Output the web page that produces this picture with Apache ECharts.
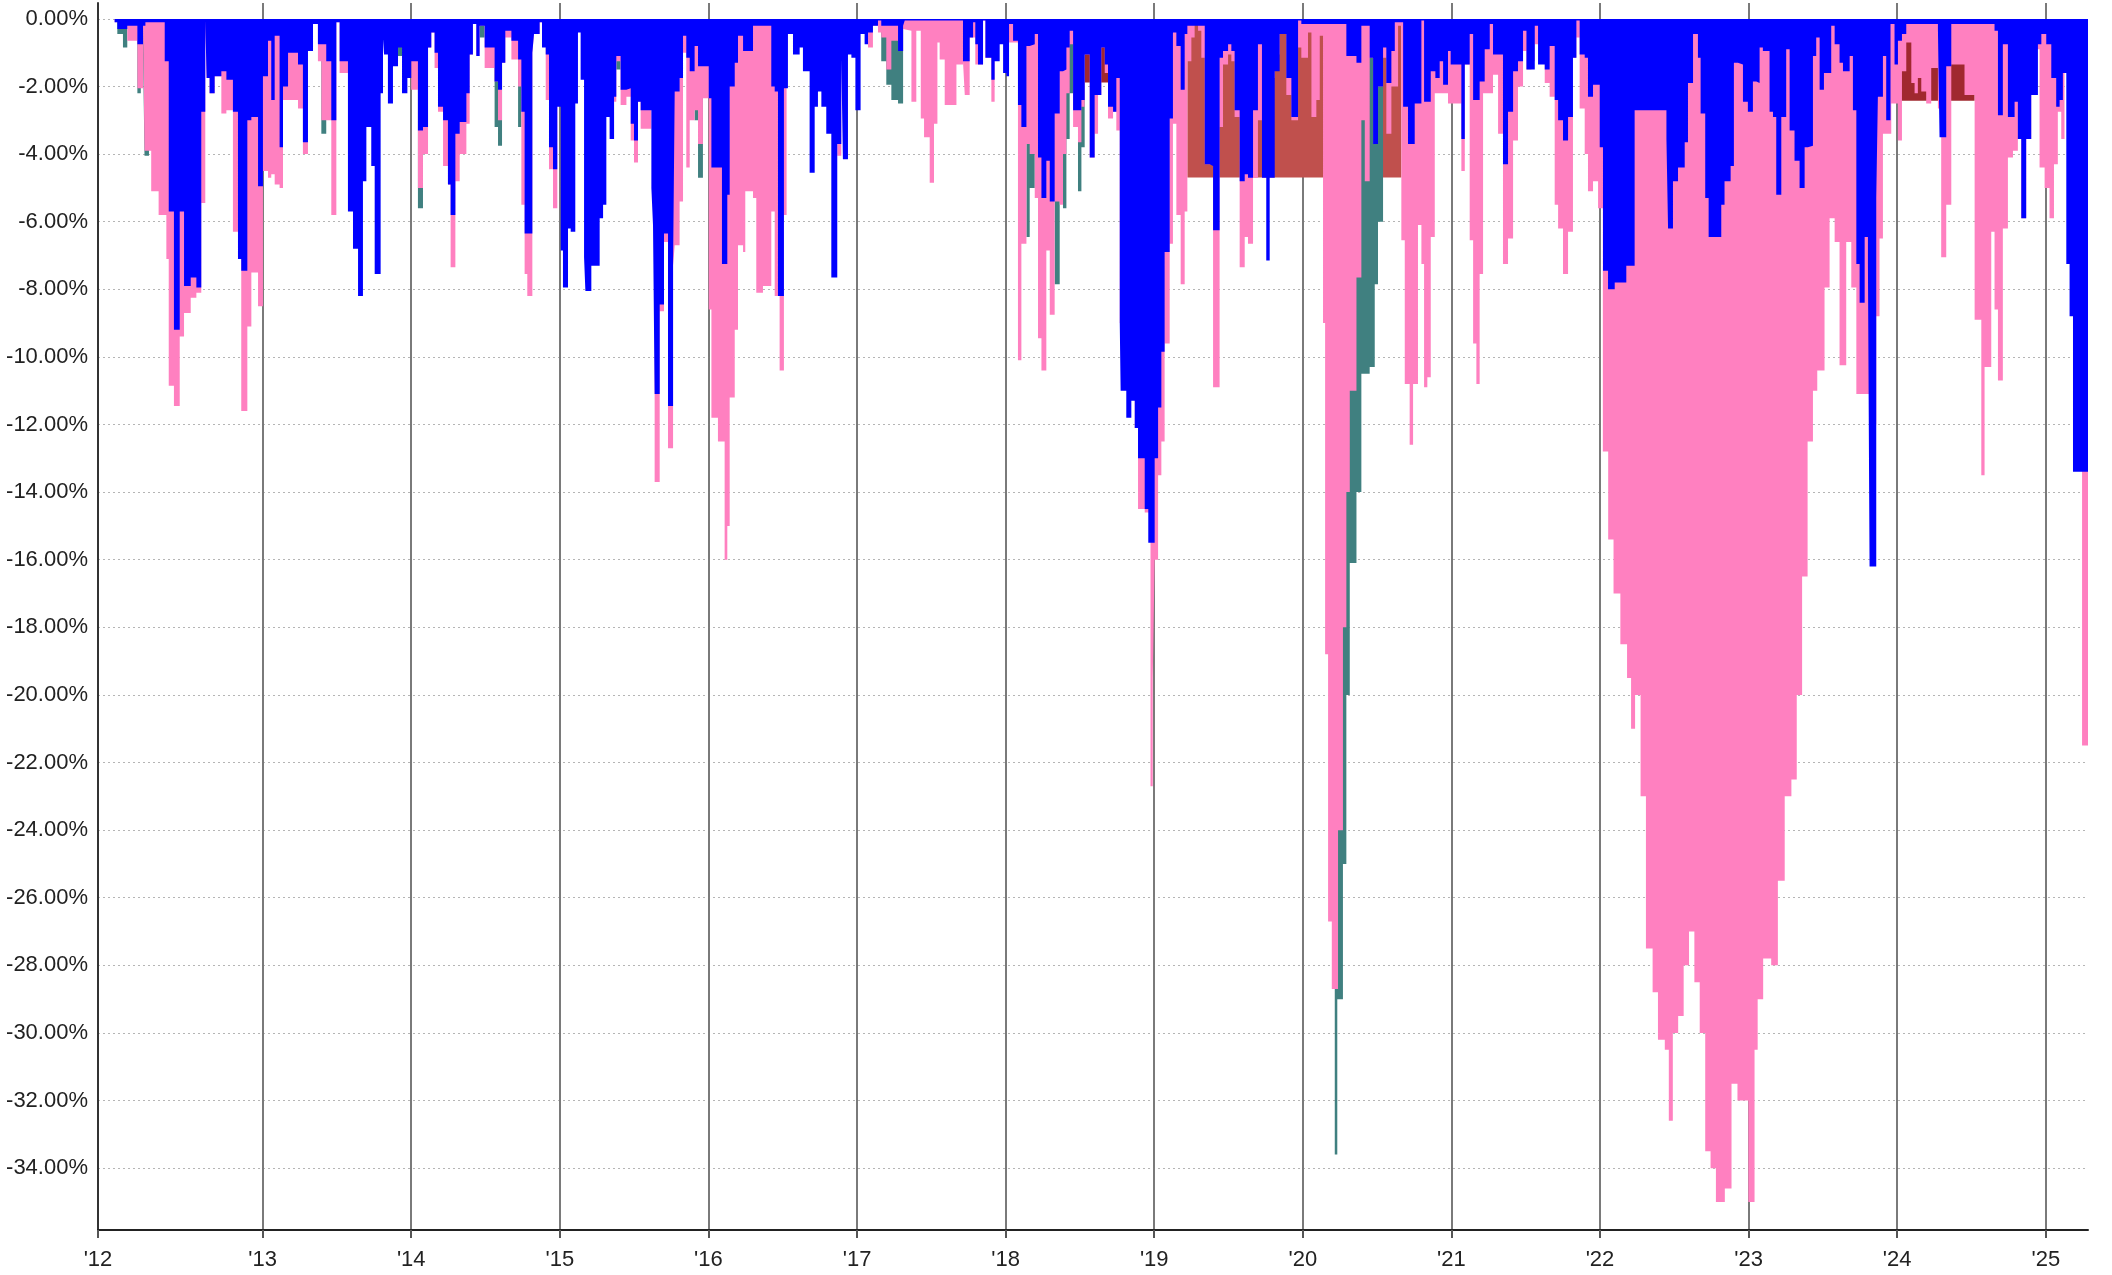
<!DOCTYPE html>
<html><head><meta charset="utf-8">
<script src="https://cdn.jsdelivr.net/npm/echarts@6/dist/echarts.min.js"></script>
<style>html,body{margin:0;padding:0;background:#fff}#c{width:2112px;height:1275px}</style>
</head><body><div id="c"></div>
<script>
const yearTicks = [2011.892, 2013, 2014, 2015, 2016, 2017, 2018, 2019, 2020, 2021, 2022, 2023, 2024, 2025];
const pctTicks = [0, -2, -4, -6, -8, -10, -12, -14, -16, -18, -20, -22, -24, -26, -28, -30, -32, -34];

const blueSeries = [[2012.004,-0.1],[2012.022,-0.3],[2012.089,-0.2],[2012.157,-0.75],[2012.195,-0.2],[2012.211,-0.1],[2012.341,-1.25],[2012.368,-5.7],[2012.403,-9.2],[2012.442,-5.7],[2012.471,-7.9],[2012.516,-7.65],[2012.554,-7.95],[2012.587,-2.75],[2012.614,-0.05],[2012.623,-1.75],[2012.643,-2.2],[2012.677,-1.7],[2012.722,-1.55],[2012.756,-1.8],[2012.8,-2.75],[2012.834,-7.1],[2012.856,-7.45],[2012.897,-3.0],[2012.924,-2.9],[2012.969,-4.95],[2013.002,-1.7],[2013.036,-0.65],[2013.058,-2.4],[2013.081,-0.5],[2013.114,-3.8],[2013.137,-2.0],[2013.171,-1.0],[2013.238,-1.35],[2013.271,-3.65],[2013.305,-0.95],[2013.339,-0.15],[2013.372,-0.75],[2013.428,-1.25],[2013.462,-3.0],[2013.496,-0.1],[2013.518,-1.25],[2013.574,-5.7],[2013.608,-6.8],[2013.642,-8.2],[2013.675,-4.8],[2013.698,-3.2],[2013.731,-4.35],[2013.754,-7.55],[2013.794,-2.2],[2013.81,-0.6],[2013.817,-1.05],[2013.843,-2.5],[2013.877,-1.4],[2013.911,-0.85],[2013.938,-2.2],[2013.974,-1.75],[2014.0,-1.25],[2014.045,-3.3],[2014.079,-3.2],[2014.113,-0.85],[2014.135,-0.4],[2014.157,-1.0],[2014.18,-2.6],[2014.214,-3.0],[2014.247,-4.9],[2014.265,-5.8],[2014.297,-3.4],[2014.326,-3.05],[2014.371,-2.2],[2014.393,-1.05],[2014.415,-0.15],[2014.438,-1.1],[2014.46,-0.2],[2014.494,-0.85],[2014.561,-1.85],
[2014.584,-2.1],[2014.611,-1.3],[2014.633,-0.35],[2014.674,-0.65],[2014.719,-1.2],[2014.741,-2.75],[2014.763,-6.35],[2014.815,-1.0],[2014.826,-0.45],[2014.864,-0.1],[2014.88,-0.85],[2014.905,-1.05],[2014.927,-3.8],[2014.954,-4.45],[2014.983,-2.6],[2015.006,-6.85],[2015.021,-7.95],[2015.055,-6.2],[2015.073,-6.3],[2015.104,-2.5],[2015.122,-0.4],[2015.14,-1.8],[2015.163,-7.05],[2015.172,-8.05],[2015.212,-7.3],[2015.268,-5.9],[2015.291,-5.5],[2015.313,-2.9],[2015.335,-3.55],[2015.365,-2.3],[2015.38,-1.1],[2015.409,-2.1],[2015.448,-2.05],[2015.477,-3.1],[2015.499,-3.6],[2015.526,-2.45],[2015.544,-2.7],[2015.616,-5.0],[2015.627,-6.1],[2015.638,-11.1],[2015.672,-8.45],[2015.701,-6.35],[2015.728,-11.45],[2015.762,-7.3],[2015.773,-2.15],[2015.806,-1.75],[2015.829,-0.5],[2015.851,-1.15],[2015.874,-1.55],[2015.907,-0.8],[2015.93,-1.4],[2016.002,-2.35],[2016.02,-4.4],[2016.091,-7.25],[2016.127,-5.2],[2016.143,-2.0],[2016.177,-1.3],[2016.199,-0.5],[2016.233,-0.95],[2016.3,-0.2],[2016.423,-2.0],[2016.446,-2.15],[2016.468,-8.2],[2016.508,-2.05],[2016.535,-0.45],[2016.569,-1.05],[2016.614,-0.85],[2016.636,-1.55],[2016.681,-4.55],[2016.715,-2.6],[2016.737,-2.15],[2016.76,-2.6],[2016.793,-3.4],[2016.827,-7.65],[2016.867,-3.7],[2016.894,-1.2],[2016.905,-4.15],[2016.939,-1.05],[2016.962,-1.15],[2016.989,-2.7],[2017.024,-0.45],[2017.051,-0.75],[2017.074,-0.4],[2017.107,-0.2],[2017.141,-0.05],[2017.163,-0.2],
[2017.276,-0.95],[2017.31,-0.2],[2017.321,-0.05],[2017.713,-1.25],[2017.758,-0.55],[2017.781,-0.1],[2017.796,-0.75],[2017.814,-1.35],[2017.848,-0.05],[2017.864,-1.15],[2017.904,-1.8],[2017.926,-1.25],[2017.96,-0.75],[2017.983,-1.6],[2018.005,-1.7],[2018.023,-0.15],[2018.05,-0.65],[2018.083,-2.55],[2018.106,-3.2],[2018.14,-0.8],[2018.162,-0.75],[2018.196,-0.45],[2018.218,-4.1],[2018.241,-5.3],[2018.274,-4.2],[2018.297,-5.4],[2018.33,-2.8],[2018.364,-1.55],[2018.386,-1.5],[2018.409,-0.85],[2018.431,-0.35],[2018.454,-2.7],[2018.51,-2.4],[2018.532,-1.05],[2018.566,-4.1],[2018.599,-2.25],[2018.644,-0.85],[2018.667,-1.35],[2018.689,-2.6],[2018.723,-2.75],[2018.745,-1.75],[2018.768,-9.0],[2018.774,-11.0],[2018.812,-11.8],[2018.846,-11.3],[2018.869,-12.1],[2018.891,-13.0],[2018.936,-14.5],[2018.96,-15.5],[2019.003,-13.0],[2019.026,-11.5],[2019.048,-9.85],[2019.07,-6.9],[2019.104,-2.95],[2019.126,-0.4],[2019.149,-0.8],[2019.178,-2.1],[2019.205,-0.45],[2019.223,-0.2],[2019.34,-4.3],[2019.373,-4.35],[2019.396,-6.25],[2019.44,-1.15],[2019.463,-0.95],[2019.497,-0.75],[2019.519,-0.95],[2019.541,-2.7],[2019.575,-4.8],[2019.609,-4.6],[2019.631,-4.7],[2019.665,-2.7],[2019.698,-0.75],[2019.725,-4.7],[2019.754,-7.15],[2019.777,-4.7],[2019.811,-1.55],[2019.844,-0.45],[2019.889,-1.75],[2019.923,-2.9],
[2019.968,-0.05],[2019.99,-0.15],[2020.293,-1.1],[2020.361,-1.3],[2020.394,-0.2],[2020.45,-1.15],[2020.473,-3.7],[2020.506,-2.0],[2020.54,-0.85],[2020.562,-1.9],[2020.596,-0.95],[2020.619,-0.1],[2020.675,-2.6],[2020.708,-3.7],[2020.753,-2.5],[2020.798,-0.05],[2020.816,-2.45],[2020.861,-1.55],[2020.892,-1.75],[2020.921,-1.25],[2020.944,-1.95],[2020.977,-0.95],[2020.995,-1.35],[2021.067,-3.55],[2021.09,-1.35],[2021.123,-0.45],[2021.146,-2.4],[2021.19,-1.85],[2021.224,-0.9],[2021.258,-0.15],[2021.28,-1.05],[2021.347,-4.3],[2021.381,-2.75],[2021.415,-1.55],[2021.448,-1.25],[2021.482,-0.35],[2021.505,-1.5],[2021.561,-0.2],[2021.583,-1.35],[2021.628,-1.5],[2021.661,-0.8],[2021.695,-2.4],[2021.718,-3.0],[2021.751,-3.6],[2021.785,-2.9],[2021.818,-1.15],[2021.841,-0.05],[2021.863,-1.05],[2021.897,-1.15],[2021.919,-2.3],[2021.953,-1.95],[2021.998,-3.8],[2022.02,-7.45],[2022.054,-8.0],[2022.099,-7.8],[2022.177,-7.3],[2022.233,-2.7],[2022.447,-3.55],[2022.458,-6.2],[2022.491,-4.8],[2022.525,-4.4],[2022.57,-3.65],[2022.592,-1.9],[2022.626,-0.45],
[2022.659,-1.15],[2022.677,-2.8],[2022.708,-5.3],[2022.731,-6.45],[2022.816,-5.5],[2022.838,-4.8],[2022.879,-4.35],[2022.901,-1.3],[2022.928,-1.35],[2022.962,-2.45],[2022.995,-2.75],[2023.029,-1.85],[2023.052,-1.9],[2023.074,-0.85],[2023.096,-0.95],[2023.141,-2.75],[2023.164,-2.9],[2023.186,-5.2],[2023.22,-2.9],[2023.253,-0.9],[2023.276,-3.3],[2023.309,-4.2],[2023.343,-5.0],[2023.377,-3.8],[2023.399,-3.75],[2023.433,-1.1],[2023.455,-0.55],[2023.478,-2.1],[2023.507,-1.6],[2023.556,-0.2],[2023.579,-0.75],[2023.612,-1.3],[2023.635,-1.55],[2023.68,-1.1],[2023.702,-2.7],[2023.725,-7.25],[2023.747,-8.4],[2023.781,-6.45],[2023.803,-7.25],[2023.814,-16.2],[2023.859,-5.3],[2023.87,-2.3],[2023.904,-1.1],[2023.926,-3.0],[2023.955,-0.15],[2023.982,-1.35],[2024.005,-0.65],[2024.032,-0.45],[2024.061,-0.15],[2024.274,-0.3],[2024.285,-3.5],[2024.33,-1.4],[2024.364,-0.15],[2024.655,-0.35],[2024.678,-2.85],[2024.711,-0.75],[2024.745,-2.9],[2024.79,-2.45],[2024.812,-3.55],[2024.835,-5.9],[2024.868,-3.55],[2024.902,-2.25],[2024.947,-0.75],[2024.97,-0.45],[2025.003,-0.75],[2025.037,-1.75],[2025.07,-2.6],[2025.093,-2.4],[2025.115,-1.6],[2025.138,-7.25],[2025.16,-8.8],[2025.183,-13.4],[2025.3,-13.4]];

const pinkSeries = [[2012.004,-0.1],[2012.089,-0.65],[2012.157,-2.05],[2012.195,-0.2],[2012.205,-3.9],[2012.25,-5.1],[2012.3,-5.8],[2012.352,-7.1],[2012.368,-10.85],[2012.403,-11.45],[2012.442,-9.4],[2012.471,-8.7],[2012.516,-8.25],[2012.554,-8.1],[2012.587,-5.45],[2012.614,-0.05],[2012.623,-1.75],[2012.643,-2.2],[2012.677,-1.7],[2012.722,-2.8],[2012.756,-2.7],[2012.8,-6.3],[2012.834,-7.1],[2012.856,-11.6],[2012.897,-9.1],[2012.924,-7.5],[2012.969,-8.5],[2013.002,-4.5],[2013.036,-4.7],[2013.058,-4.6],[2013.081,-4.9],[2013.114,-5.0],[2013.137,-2.4],[2013.238,-2.65],[2013.271,-4.0],[2013.305,-0.95],[2013.339,-0.15],[2013.372,-1.25],[2013.395,-3.0],[2013.462,-5.8],[2013.496,-0.1],[2013.518,-1.6],[2013.574,-0.1],[2014.0,-2.1],[2014.045,-5.0],[2014.079,-4.0],[2014.113,-0.85],[2014.135,-0.4],[2014.157,-1.45],[2014.18,-2.75],[2014.214,-4.35],[2014.247,-4.9],[2014.265,-7.35],[2014.297,-4.8],[2014.326,-4.0],[2014.371,-3.1],[2014.393,-1.05],[2014.415,-0.15],[2014.438,-1.1],[2014.46,-0.2],[2014.494,-1.45],[2014.561,-1.85],
[2014.584,-3.0],[2014.611,-1.3],[2014.633,-0.55],[2014.674,-1.2],[2014.719,-2.0],[2014.741,-5.5],[2014.763,-7.55],[2014.781,-8.2],[2014.815,-1.0],[2014.826,-0.45],[2014.864,-0.1],[2014.905,-2.4],[2014.927,-4.45],[2014.954,-5.6],[2014.983,-0.3],[2015.365,-2.45],[2015.38,-1.25],[2015.409,-2.55],[2015.448,-2.3],[2015.477,-3.6],[2015.499,-4.25],[2015.526,-2.45],[2015.544,-3.25],[2015.616,-2.5],[2015.638,-13.7],[2015.672,-8.65],[2015.701,-6.6],[2015.728,-12.7],[2015.762,-7.3],[2015.773,-6.7],[2015.806,-5.4],[2015.829,-1.0],[2015.851,-4.4],[2015.874,-3.0],[2015.907,-2.7],[2015.93,-3.7],[2015.963,-2.35],[2016.002,-8.6],[2016.02,-11.8],[2016.064,-12.5],[2016.109,-16.0],[2016.127,-15.0],[2016.143,-11.2],[2016.177,-9.2],[2016.199,-6.7],[2016.233,-6.9],[2016.248,-5.1],[2016.3,-5.3],[2016.322,-8.1],[2016.367,-7.9],[2016.423,-5.7],[2016.446,-8.2],[2016.479,-10.4],[2016.508,-5.8],[2016.526,-2.05],[2016.535,-0.45],[2016.569,-0.8],[2016.867,-4.05],[2016.894,-1.2],[2016.905,-0.4],[2017.074,-0.85],[2017.107,-0.2],[2017.141,-0.4],[2017.163,-0.55],[2017.197,-1.5],[2017.231,-0.65],
[2017.276,-0.95],[2017.31,-0.3],[2017.321,-0.35],[2017.366,-2.45],[2017.399,-0.35],[2017.429,-2.95],[2017.451,-3.5],[2017.489,-4.85],[2017.518,-3.1],[2017.541,-0.7],[2017.556,-1.2],[2017.59,-2.55],[2017.669,-1.35],[2017.713,-1.25],[2017.725,-2.25],[2017.758,-0.55],[2017.796,-1.35],[2017.848,-0.05],[2017.864,-1.15],[2017.904,-2.45],[2017.926,-0.7],[2018.083,-10.1],[2018.106,-6.65],[2018.14,-3.7],[2018.162,-4.0],[2018.196,-5.3],[2018.218,-9.45],[2018.241,-10.4],[2018.274,-6.85],[2018.297,-8.75],[2018.33,-5.4],[2018.364,-5.5],[2018.386,-4.0],[2018.409,-2.2],[2018.431,-0.75],[2018.454,-3.2],[2018.487,-3.65],[2018.51,-2.6],[2018.532,-1.05],[2018.566,-4.1],[2018.599,-3.4],[2018.622,-2.25],[2018.644,-0.85],[2018.667,-1.6],[2018.689,-2.95],[2018.723,-2.75],[2018.745,-3.3],[2018.768,-9.0],[2018.869,-12.1],[2018.891,-14.5],[2018.936,-14.6],[2018.975,-22.7],[2018.99,-19.5],[2019.003,-16.0],[2019.026,-13.5],[2019.048,-12.5],[2019.07,-9.6],[2019.104,-6.65],[2019.126,-3.1],[2019.149,-5.8],[2019.178,-7.85],[2019.205,-5.7],[2019.223,-1.25],[2019.25,-0.55],[2019.272,-0.15],[2019.295,-0.35],[2019.317,-1.15],[2019.34,-4.3],[2019.396,-10.9],[2019.44,-3.2],[2019.463,-1.35],[2019.497,-1.05],[2019.519,-1.25],[2019.541,-2.9],[2019.575,-7.35],[2019.609,-6.45],[2019.631,-6.65],[2019.665,-4.7],[2019.698,-3.0],[2019.725,-4.7],[2019.777,-1.75],[2019.811,-1.05],[2019.844,-0.45],[2019.889,-2.25],[2019.923,-3.0],
[2019.968,-0.85],[2019.99,-1.15],[2020.035,-0.4],[2020.058,-2.9],[2020.091,-2.4],[2020.114,-0.5],[2020.136,-9.0],[2020.15,-18.8],[2020.17,-26.7],[2020.195,-28.7],[2020.237,-24.0],[2020.27,-18.0],[2020.293,-14.0],[2020.316,-11.0],[2020.361,-7.65],[2020.394,-3.0],[2020.417,-4.8],[2020.45,-1.15],[2020.473,-3.7],[2020.506,-2.0],[2020.54,-1.15],[2020.562,-3.4],[2020.596,-2.0],[2020.641,-0.2],[2020.663,-6.55],[2020.686,-10.8],[2020.719,-12.6],[2020.742,-10.8],[2020.775,-6.1],[2020.798,-7.25],[2020.816,-10.9],[2020.838,-10.6],[2020.861,-6.45],[2020.888,-2.2],[2020.977,-2.5],[2021.067,-4.5],[2021.09,-1.35],[2021.123,-6.55],[2021.146,-9.6],[2021.168,-10.8],[2021.19,-7.55],[2021.213,-2.2],[2021.28,-1.65],[2021.314,-3.4],[2021.347,-7.25],[2021.381,-6.5],[2021.415,-3.6],[2021.448,-2.0],[2021.482,-0.95],[2021.505,-1.5],[2021.538,-1.25],[2021.561,-0.75],[2021.628,-1.9],[2021.661,-2.3],[2021.695,-5.5],[2021.718,-6.2],[2021.751,-7.55],[2021.785,-6.3],[2021.818,-1.15],[2021.841,-0.55],[2021.863,-2.65],[2021.897,-4.0],[2021.919,-5.1],[2021.953,-4.8],[2021.987,-5.6],
[2022.019,-12.8],[2022.055,-15.4],[2022.091,-17.0],[2022.137,-18.5],[2022.182,-19.5],[2022.209,-21.0],[2022.236,-20.0],[2022.273,-23.0],[2022.309,-27.5],[2022.354,-28.8],[2022.39,-30.2],[2022.436,-30.5],[2022.463,-32.6],[2022.49,-30.0],[2022.526,-29.5],[2022.563,-28.0],[2022.599,-27.0],[2022.635,-28.5],[2022.671,-30.0],[2022.708,-33.5],[2022.744,-34.0],[2022.78,-35.0],[2022.84,-34.6],[2022.885,-31.5],[2022.925,-32.0],[2022.998,-35.0],[2023.04,-30.5],[2023.061,-29.0],[2023.098,-27.8],[2023.152,-28.0],[2023.197,-25.5],[2023.243,-23.0],[2023.288,-22.5],[2023.324,-20.0],[2023.36,-16.5],[2023.397,-12.5],[2023.433,-11.0],[2023.462,-10.4],[2023.511,-7.95],[2023.545,-5.9],[2023.579,-6.6],[2023.612,-10.25],[2023.657,-6.6],[2023.691,-7.95],[2023.725,-11.1],[2023.781,-11.1],[2023.814,-12.0],[2023.859,-8.8],[2023.881,-6.5],[2023.904,-3.4],[2023.96,-2.5],[2024.005,-3.6],[2024.032,-1.55],[2024.061,-0.7],[2024.095,-1.9],[2024.117,-2.2],[2024.139,-1.75],[2024.162,-2.15],[2024.195,-2.5],[2024.229,-1.45],[2024.274,-2.65],[2024.296,-7.05],[2024.33,-5.5],[2024.364,-1.35],[2024.453,-2.25],[2024.521,-8.9],[2024.566,-13.5],[2024.588,-10.3],[2024.633,-6.3],[2024.655,-8.6],[2024.678,-10.7],[2024.711,-6.2],[2024.745,-4.1],[2024.779,-3.9],[2024.812,-3.55],[2024.835,-5.9],[2024.868,-3.55],[2024.902,-1.55],[2024.924,-0.9],[2024.958,-4.4],[2024.992,-5.0],[2025.025,-5.9],[2025.055,-4.3],[2025.081,-2.75],[2025.104,-3.55],[2025.126,-1.6],[2025.244,-21.5],[2025.3,-21.5]];

const tealSeries = [[2012.004,0],[2012.022,-0.45],[2012.06,-0.85],[2012.089,0],[2012.157,-2.2],[2012.18,0],[2012.195,-1.05],[2012.205,-4.05],[2012.235,0],[2013.395,-3.4],[2013.428,0],[2013.911,-1.1],[2013.938,0],[2014.045,-5.6],[2014.079,0],[2014.46,-0.55],[2014.494,0],[2014.561,-3.2],[2014.584,-3.75],[2014.611,0],[2014.719,-3.2],[2014.741,0],[2015.38,-1.5],[2015.409,0],[2015.907,-3.0],[2015.93,-4.7],[2015.963,0],[2017.163,-1.25],[2017.197,-1.95],[2017.231,-2.4],[2017.276,-2.5],[2017.31,0],[2018.14,-6.45],[2018.162,-5.0],[2018.196,0],[2018.33,-7.85],[2018.364,0],[2018.386,-5.6],[2018.409,-3.55],[2018.431,-2.2],[2018.454,0],[2018.487,-5.1],[2018.51,-3.8],[2018.532,0],[2020.215,-33.6],[2020.232,-29.0],[2020.27,-25.0],[2020.293,-20.0],[2020.316,-16.1],[2020.361,-14.0],[2020.394,-10.5],[2020.45,-10.3],[2020.484,-7.85],[2020.506,-6.0],[2020.54,0],[2025.3,0]];

const brownSeries = [[2012.0,0],[2019.223,-4.69],[2020.663,0],[2025.3,0]];
const darkRedSeries = [[2012.0,0],[2018.532,-1.88],[2018.768,0],[2023.96,-2.42],[2024.521,0],[2025.3,0]];

const seriesDefs = [
  {name:'brown', data: brownSeries, color:'#c0504d'},
  {name:'darkred', data: darkRedSeries, color:'#a0282f'},
  {name:'teal', data: tealSeries, color:'#408080'},
  {name:'pink', data: pinkSeries, color:'#ff80c0'},
  {name:'blue', data: blueSeries, color:'#0000ff'}
];

const chart = echarts.init(document.getElementById('c'), null, {renderer:'canvas'});
const fontFamily = "'Liberation Sans', Arial, sans-serif";
chart.setOption({
  animation: false,
  backgroundColor: '#ffffff',
  grid: {left: 98, right: 24, top: 3, bottom: 45, containLabel: false},
  xAxis: {
    type: 'value', min: 2011.892, max: 2025.284,
    axisLine: {show: true, onZero: false, lineStyle: {color: '#222', width: 2}},
    axisTick: {show: true, length: 8, customValues: yearTicks, lineStyle: {color: '#555', width: 2}},
    axisLabel: {customValues: yearTicks, margin: 19, color: '#222', fontSize: 22, fontFamily: fontFamily,
      formatter: function (v) { return "'" + String(Math.round(v)).slice(2); }},
    splitLine: {show: true, lineStyle: {color: '#7a7a7a', width: 2}}
  },
  yAxis: {
    type: 'value', min: -35.83, max: 0.47,
    axisLine: {show: true, onZero: false, lineStyle: {color: '#333', width: 2}},
    axisTick: {show: false, customValues: pctTicks},
    axisLabel: {customValues: pctTicks, margin: 10, color: '#222', fontSize: 22, fontFamily: fontFamily,
      formatter: function (v) { return v.toFixed(2) + '%'; }},
    splitLine: {show: true, lineStyle: {color: '#b5b5b5', width: 1, type: [2, 3]}}
  },
  series: seriesDefs.map(function (s) {
    return {
      name: s.name, type: 'line', step: 'end', data: s.data, symbol: 'none', silent: true,
      lineStyle: {width: 0, color: s.color}, itemStyle: {color: s.color},
      areaStyle: {color: s.color, opacity: 1, origin: 0}
    };
  })
});
</script>
</body></html>
